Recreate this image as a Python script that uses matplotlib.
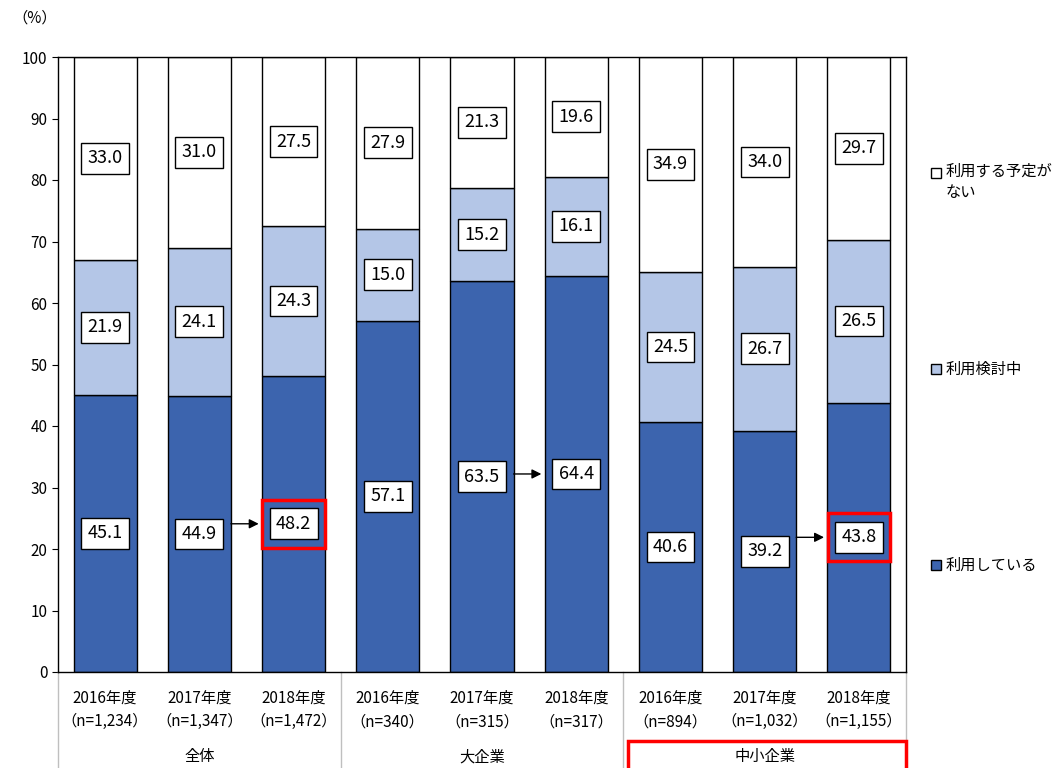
import matplotlib
matplotlib.use("Agg")
import matplotlib.pyplot as plt
import matplotlib.patches as mpatches
import numpy as np

plt.rcParams["font.family"] = ["Noto Sans CJK JP", "DejaVu Sans"]

# data
years = ["2016年度", "2017年度", "2018年度"] * 3
n_labels = ["（n=1,234）", "（n=1,347）", "（n=1,472）",
            "（n=340）", "（n=315）", "（n=317）",
            "（n=894）", "（n=1,032）", "（n=1,155）"]
groups = ["全体", "大企業", "中小企業"]
using = [45.1, 44.9, 48.2, 57.1, 63.5, 64.4, 40.6, 39.2, 43.8]
considering = [21.9, 24.1, 24.3, 15.0, 15.2, 16.1, 24.5, 26.7, 26.5]
no_plan = [33.0, 31.0, 27.5, 27.9, 21.3, 19.6, 34.9, 34.0, 29.7]
series_names = ["利用している", "利用検討中", "利用する予定が\nない"]

DARK = "#3C64AE"
LIGHT = "#B4C6E7"
WHITE = "#FFFFFF"
RED = "#FF0000"

fig = plt.figure(figsize=(10.52, 7.68), dpi=100)
ax = fig.add_axes([58 / 1052, 1 - 672 / 768, 848 / 1052, 615 / 768])

x = np.arange(len(using))
w = 0.67
b1 = np.array(using)
b2 = b1 + np.array(considering)
ax.bar(x, using, w, color=DARK, edgecolor="black", linewidth=1, zorder=2)
ax.bar(x, considering, w, bottom=b1, color=LIGHT, edgecolor="black", linewidth=1, zorder=2)
# top segment fills to 100 (rounding in the source values)
ax.bar(x, 100 - b2, w, bottom=b2, color=WHITE, edgecolor="black", linewidth=1, zorder=2)

box = dict(boxstyle="square,pad=0.35", fc="white", ec="black", lw=1)
for i in range(len(x)):
    for bottom, val in [(0, using[i]), (b1[i], considering[i]), (b2[i], no_plan[i])]:
        ax.text(x[i], bottom + val / 2, f"{val:.1f}", ha="center", va="center",
                fontsize=13, bbox=box, zorder=5)

# arrows 2017 -> 2018
for i in [1, 4, 7]:
    yv = using[i + 1] / 2
    ax.annotate("", xy=(x[i + 1] - 0.37, yv), xytext=(x[i] + w / 2, yv),
                arrowprops=dict(arrowstyle="-|>", color="black", lw=1,
                                mutation_scale=14, shrinkA=0, shrinkB=0),
                zorder=6)

# red highlight boxes
for i in [2, 8]:
    c = using[i] / 2
    ax.add_patch(mpatches.Rectangle((x[i] - 0.33, c - 3.9), 0.66, 7.8, fill=False,
                                    ec=RED, lw=2.5, zorder=7, clip_on=False))

ax.set_xlim(-0.5, 8.5)
ax.set_ylim(0, 100)
ax.set_yticks(range(0, 101, 10))
ax.tick_params(axis="y", labelsize=11, length=4)
ax.set_xticks([])
for s in ax.spines.values():
    s.set_linewidth(1)

# category labels
tr = ax.get_xaxis_transform()
for i in range(len(x)):
    ax.text(x[i], -0.042, years[i], transform=tr, ha="center", va="center", fontsize=11)
    ax.text(x[i], -0.081, n_labels[i], transform=tr, ha="center", va="center", fontsize=11)
for g, name in enumerate(groups):
    ax.text(g * 3 + 1, -0.138, name, transform=tr, ha="center", va="center", fontsize=11)
for sx in [-0.5, 2.5, 5.5, 8.5]:
    ax.plot([sx, sx], [0, -0.17], transform=tr, color="#BFBFBF", lw=1, clip_on=False)
ax.add_patch(mpatches.Rectangle((5.55, -0.2), 2.95, 0.088, transform=tr, fill=False,
                                ec=RED, lw=2.5, clip_on=False, zorder=7))

fig.text(12 / 1052, 1 - 18 / 768, "（%）", fontsize=11, va="center", ha="left")

# legend
leg_y = [565, 369, 173]
colors = [DARK, LIGHT, WHITE]
for name, c, yp in zip(series_names, colors, leg_y):
    fig.patches.append(mpatches.Rectangle((931 / 1052, 1 - (yp + 5) / 768), 10 / 1052, 10 / 768,
                                          transform=fig.transFigure, fc=c, ec="black", lw=1))
    if "\n" in name:
        fig.text(946 / 1052, 1 - (yp - 10) / 768, name, fontsize=11, va="top",
                 ha="left", linespacing=1.3)
    else:
        fig.text(946 / 1052, 1 - yp / 768, name, fontsize=11, va="center", ha="left")

fig.savefig("out.png", dpi=100)
